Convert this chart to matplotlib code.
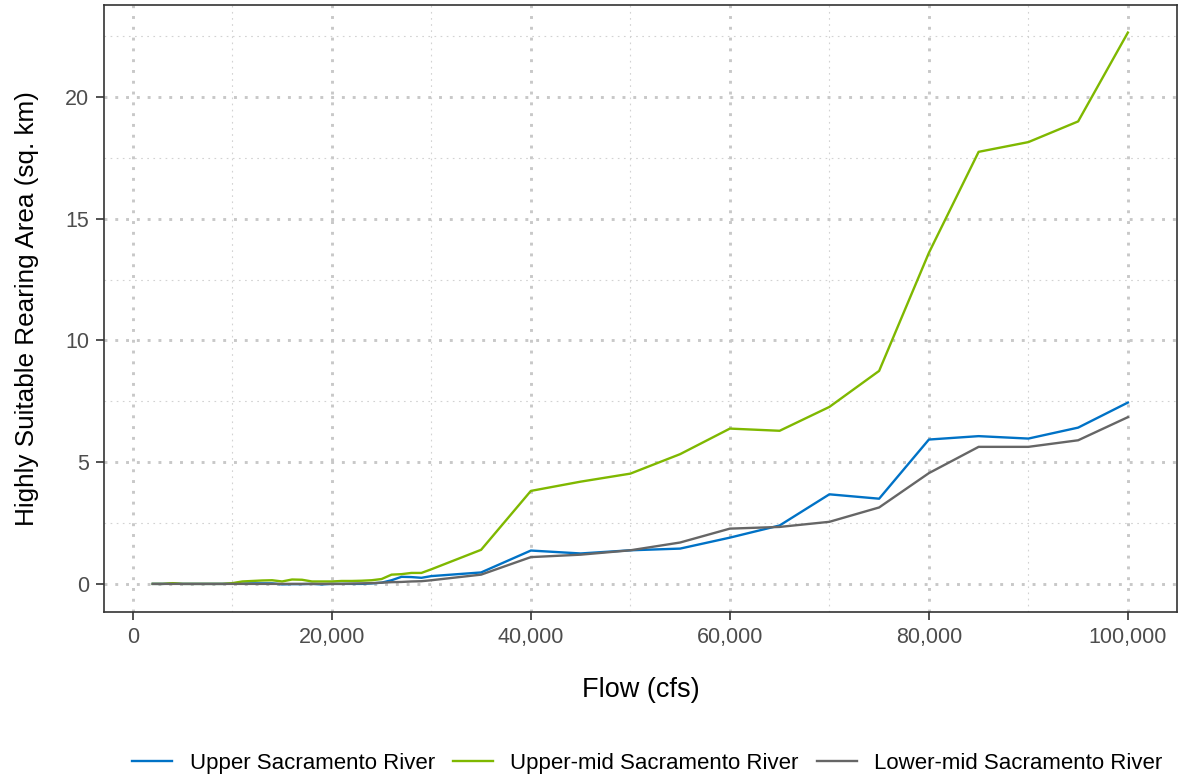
import matplotlib.pyplot as plt
from matplotlib.ticker import FuncFormatter, MultipleLocator

plt.rcParams['font.family'] = ['Liberation Sans', 'DejaVu Sans']

# Flow values (cfs)
flow = [2000, 3000, 4000, 5000, 6000, 7000, 8000, 9000, 10000, 11000, 12000,
        13000, 14000, 15000, 16000, 17000, 18000, 19000, 20000, 21000, 22000,
        23000, 24000, 25000, 26000, 27000, 28000, 29000, 30000, 35000, 40000,
        45000, 50000, 55000, 60000, 65000, 70000, 75000, 80000, 85000, 90000,
        95000, 100000]

upper = [0.0, 0.0, 0.01, 0.0, 0.0, 0.0, 0.0, 0.0, 0.01, 0.01, 0.02,
         0.02, 0.02, -0.02, -0.01, -0.01, 0.0, -0.02, 0.0, 0.0, 0.0,
         0.0, 0.02, 0.05, 0.15, 0.29, 0.28, 0.25, 0.32, 0.47, 1.37,
         1.25, 1.38, 1.45, 1.9, 2.4, 3.68, 3.5, 5.93, 6.07, 5.97,
         6.42, 7.45]

upper_mid = [0.0, 0.0, 0.03, 0.0, 0.0, 0.0, 0.0, 0.0, 0.03, 0.1, 0.12,
             0.14, 0.15, 0.1, 0.18, 0.17, 0.1, 0.1, 0.1, 0.12, 0.12,
             0.13, 0.15, 0.2, 0.38, 0.4, 0.45, 0.45, 0.6, 1.4, 3.82,
             4.2, 4.53, 5.33, 6.38, 6.29, 7.27, 8.75, 13.6, 17.75, 18.15,
             19.0, 22.65]

lower_mid = [0.0, 0.0, 0.0, 0.0, 0.0, 0.0, 0.0, 0.0, 0.0, 0.0, 0.0,
             0.0, 0.0, 0.0, 0.0, 0.0, 0.0, 0.0, 0.0, 0.0, 0.01,
             0.02, 0.03, 0.05, 0.07, 0.08, 0.1, 0.11, 0.15, 0.38, 1.1,
             1.2, 1.38, 1.7, 2.27, 2.34, 2.55, 3.14, 4.55, 5.63, 5.63,
             5.9, 6.85]

series = [
    ('Upper Sacramento River', upper, '#0072C6'),
    ('Upper-mid Sacramento River', upper_mid, '#7FB800'),
    ('Lower-mid Sacramento River', lower_mid, '#666666'),
]

fig = plt.figure(figsize=(11.79, 7.77), dpi=100)
ax = fig.add_axes([0.0882, 0.2124, 0.9098, 0.7812])

for name, vals, col in series:
    ax.plot(flow, vals, color=col, lw=1.7, label=name)

# ggplot-like expansion
xr = max(flow) - min(flow)
ax.set_xlim(min(flow) - 0.05 * xr, max(flow) + 0.05 * xr)
allv = upper + upper_mid + lower_mid
yr = max(allv) - min(allv)
ax.set_ylim(min(allv) - 0.05 * yr, max(allv) + 0.05 * yr)

ax.xaxis.set_major_locator(MultipleLocator(20000))
ax.xaxis.set_minor_locator(MultipleLocator(10000))
ax.yaxis.set_major_locator(MultipleLocator(5))
ax.yaxis.set_minor_locator(MultipleLocator(2.5))
ax.xaxis.set_major_formatter(FuncFormatter(lambda v, p: f'{int(v):,}'))

ax.grid(which='major', color='#c8c8c8', ls=(0, (1, 2.7)), lw=2.1)
ax.grid(which='minor', color='#d2d2d2', ls=(0, (1.5, 4)), lw=0.8)
ax.set_axisbelow(True)

for s in ax.spines.values():
    s.set_color('#333333')
    s.set_linewidth(1.2)

ax.tick_params(which='major', direction='out', length=5.8, width=1.2,
               color='#333333', labelsize=15.5, labelcolor='#4d4d4d', pad=5)
ax.tick_params(which='minor', length=0)

ax.set_xlabel('Flow (cfs)', fontsize=19.5)
ax.set_ylabel('Highly Suitable Rearing Area (sq. km)', fontsize=18.8)
ax.xaxis.set_label_coords(0.5, -0.107)
ax.yaxis.set_label_coords(-0.061, 0.5)

fig.legend(loc='center', bbox_to_anchor=(0.549, 0.018), ncol=3, frameon=False,
           fontsize=16, handlelength=1.8, columnspacing=0.8, handletextpad=0.8)

fig.savefig('out.png', dpi=100)
